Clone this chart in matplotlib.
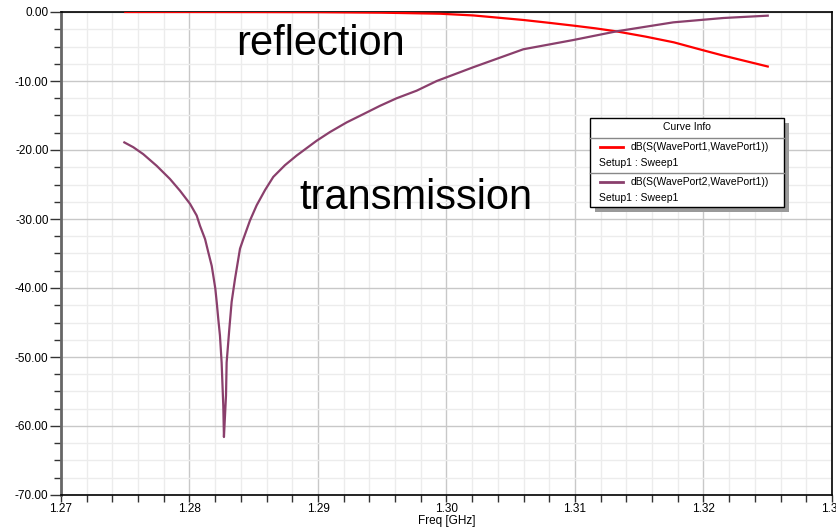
import matplotlib
matplotlib.use("Agg")
import matplotlib.pyplot as plt
from matplotlib.ticker import MultipleLocator, FormatStrFormatter
from matplotlib.patches import Rectangle
from matplotlib.lines import Line2D

plt.rcParams['font.family'] = ['Liberation Sans', 'DejaVu Sans']

# S11 (reflection), dB vs GHz
freq_s11 = [1.2750, 1.2800, 1.2850, 1.2900, 1.2950, 1.2995, 1.3021,
            1.3040, 1.3060, 1.3079, 1.3099, 1.3116, 1.3132, 1.3155,
            1.3177, 1.3196, 1.3215, 1.3250]
s11_db = [0.00, 0.00, -0.01, -0.03, -0.10, -0.25, -0.50,
          -0.82, -1.16, -1.55, -1.98, -2.37, -2.80, -3.57,
          -4.40, -5.36, -6.30, -7.90]

# S21 (transmission), dB vs GHz
freq_s21 = [1.27493, 1.27563, 1.27640, 1.27745, 1.27848, 1.27926, 1.28004,
            1.28056, 1.28082, 1.28121, 1.28146, 1.28173, 1.28185, 1.28201,
            1.28212, 1.28224, 1.28237, 1.28250, 1.28263, 1.28268, 1.28284,
            1.28289, 1.28310, 1.28328, 1.28354, 1.28393, 1.28419, 1.28471,
            1.28523, 1.28588, 1.28652, 1.28743, 1.28834, 1.28990, 1.29093,
            1.29223, 1.29353, 1.29482, 1.29612, 1.29768, 1.29924, 1.30209,
            1.30598, 1.30987, 1.31324, 1.31765, 1.32154, 1.32500]
s21_db = [-18.9, -19.6, -20.6, -22.3, -24.2, -25.9, -27.8,
          -29.5, -31.0, -32.9, -34.8, -36.8, -38.2, -40.1,
          -42.1, -44.5, -46.9, -50.8, -57.1, -61.6, -55.6,
          -50.8, -45.9, -42.0, -38.7, -34.3, -32.9, -30.2,
          -28.0, -25.8, -23.9, -22.2, -20.8, -18.65, -17.4,
          -16.0, -14.8, -13.6, -12.5, -11.4, -10.0, -8.0,
          -5.4, -4.06, -2.8, -1.5, -0.87, -0.53]

red = '#ff0000'
purple = '#8a3f6c'

fig = plt.figure(figsize=(8.36, 5.28), dpi=100)
ax = fig.add_axes([61 / 836, 33 / 528, 771 / 836, 483 / 528])

ax.plot(freq_s11, s11_db, color=red, lw=1.6, zorder=3)
ax.plot(freq_s21, s21_db, color=purple, lw=1.6, zorder=3)

ax.set_xlim(1.27, 1.33)
ax.set_ylim(-70, 0)
ax.xaxis.set_major_locator(MultipleLocator(0.01))
ax.xaxis.set_minor_locator(MultipleLocator(0.002))
ax.yaxis.set_major_locator(MultipleLocator(10))
ax.yaxis.set_minor_locator(MultipleLocator(2.5))
ax.xaxis.set_major_formatter(FormatStrFormatter('%.2f'))
ax.yaxis.set_major_formatter(FormatStrFormatter('%.2f'))

ax.grid(which='minor', color='#ececec', lw=1)
ax.grid(which='major', color='#c8c8c8', lw=1)
ax.set_axisbelow(True)

ax.tick_params(which='major', direction='out', length=8, width=1,
               color='#333333', labelsize=8.5, pad=1)
ax.tick_params(which='minor', direction='out', length=5, width=1,
               color='#333333')
ax.tick_params(axis='x', which='both', length=5)
for sp in ('top', 'right', 'bottom'):
    ax.spines[sp].set_color('black')
    ax.spines[sp].set_linewidth(1.2)
ax.spines['left'].set_color('#666666')
ax.spines['left'].set_linewidth(2)

ax.set_xlabel('Freq [GHz]', fontsize=8.5, labelpad=0)

ax.text(1.27 + (236 - 61) / 12850, -(56 - 13) / 6.9, 'reflection',
        fontsize=30, color='black', va='baseline', ha='left', zorder=5)
ax.text(1.27 + (299 - 61) / 12850, -(210 - 13) / 6.9, 'transmission',
        fontsize=30, color='black', va='baseline', ha='left', zorder=5)

# Curve info box, placed in figure pixels
W, H = 836, 528


def fx(px):
    return px / W


def fy(py):
    return 1 - py / H


box_l, box_r, box_t, box_b = 590, 784, 118, 207
fig.patches.append(Rectangle((fx(box_l + 5), fy(box_b + 5)),
                             (box_r - box_l) / W, (box_b - box_t) / H,
                             transform=fig.transFigure, facecolor='#9a9a9a',
                             edgecolor='none', zorder=10))
fig.patches.append(Rectangle((fx(box_l), fy(box_b)),
                             (box_r - box_l) / W, (box_b - box_t) / H,
                             transform=fig.transFigure, facecolor='white',
                             edgecolor='black', lw=1, zorder=11))
for yy in (138, 173):
    fig.lines.append(Line2D([fx(box_l), fx(box_r)], [fy(yy), fy(yy)],
                            transform=fig.transFigure, color='#888888',
                            lw=1, zorder=12))
fig.text(fx((box_l + box_r) / 2), fy(127), 'Curve Info', fontsize=7.5,
         ha='center', va='center', zorder=13)
entries = [(red, 'dB(S(WavePort1,WavePort1))', 147, 163),
           (purple, 'dB(S(WavePort2,WavePort1))', 182, 198)]
for col, label, y1, y2 in entries:
    fig.lines.append(Line2D([fx(600), fx(623)], [fy(y1), fy(y1)],
                            transform=fig.transFigure, color=col, lw=2,
                            zorder=13))
    fig.text(fx(631), fy(y1), label, fontsize=7.5, ha='left', va='center',
             zorder=13)
    fig.text(fx(599), fy(y2), 'Setup1 : Sweep1', fontsize=7.5, ha='left',
             va='center', zorder=13)

fig.savefig('out.png', dpi=100)
